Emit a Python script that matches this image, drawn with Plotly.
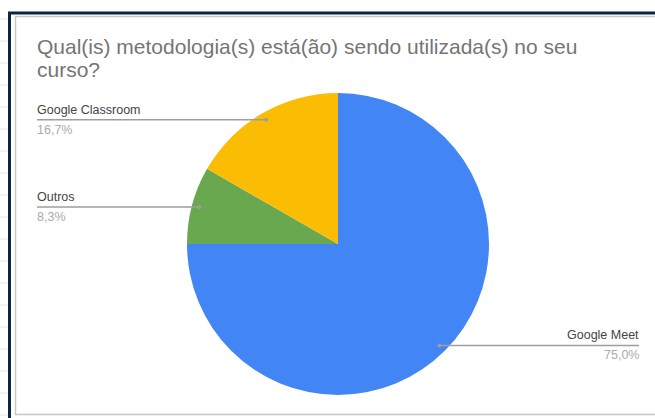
import math
import plotly.graph_objects as go

# Dados
categorias = ["Google Meet", "Outros", "Google Classroom"]
valores = [75.0, 8.3, 16.7]
rotulos_pct = ["75,0%", "8,3%", "16,7%"]
cores = ["#4285F4", "#6AA84F", "#FBBC04"]

titulo = ["Qual(is) metodologia(s) está(ão) sendo utilizada(s) no seu", "curso?"]

# Geometria (pixels da janela)
W, H = 655, 418
cx, cy, r = 338, 244, 151
x_esq, x_dir = 37, 639

fig = go.Figure()
fig.add_trace(
    go.Pie(
        labels=categorias,
        values=valores,
        sort=False,
        direction='clockwise',
        rotation=0,
        marker=dict(colors=cores, line=dict(width=0)),
        textinfo='none',
        hoverinfo='label+percent',
        showlegend=False,
        domain=dict(x=[(cx - r) / W, (cx + r) / W],
                    y=[1 - (cy + r) / H, 1 - (cy - r) / H])
    )
)

formas = []
anotacoes = []

# Linhas de chamada calculadas a partir dos ângulos das fatias
total = sum(valores)
acum = 0
for nome, v, pct in zip(categorias, valores, rotulos_pct):
    meio = (acum + v / 2) / total * 2 * math.pi
    acum += v
    px_ = cx + 0.95 * r * math.sin(meio)
    py_ = cy - 0.95 * r * math.cos(meio)
    direita = px_ > cx
    xf = x_dir if direita else x_esq
    formas.append(dict(type='line', xref='x', yref='y', x0=px_, y0=py_, x1=xf, y1=py_,
                       line=dict(color='#9E9E9E', width=1.5), layer='above'))
    formas.append(dict(type='circle', xref='x', yref='y',
                       x0=px_ - 2, y0=py_ - 2, x1=px_ + 2, y1=py_ + 2,
                       fillcolor='#9E9E9E', line=dict(width=0), layer='above'))
    anchor = 'right' if direita else 'left'
    xt = xf + 2 if direita else xf - 2
    anotacoes.append(dict(x=xt, y=py_ - 1, xref='x', yref='y', text=nome,
                          showarrow=False, xanchor=anchor, yanchor='bottom',
                          font=dict(family='Liberation Sans', size=12.5, color='#444444')))
    anotacoes.append(dict(x=xt, y=py_ + 1, xref='x', yref='y', text=pct,
                          showarrow=False, xanchor=anchor, yanchor='top',
                          font=dict(family='Liberation Sans', size=12.5, color='#AAAAAA')))

for i, linha in enumerate(titulo):
    anotacoes.append(dict(x=x_esq - 2, y=33 + 23 * i, xref='x', yref='y', text=linha,
                          showarrow=False, xanchor='left', yanchor='top', align='left',
                          font=dict(family='Liberation Sans', size=21, color='#757575')))

# Bordas do recorte
formas += [
    dict(type='rect', xref='x', yref='y', x0=15.5, y0=16.5, x1=W + 5, y1=414.5,
         line=dict(color='#C8C8C8', width=1.5), layer='below'),
    dict(type='line', xref='x', yref='y', x0=9.5, y0=12, x1=9.5, y1=H,
         line=dict(color='#0F2442', width=3)),
    dict(type='line', xref='x', yref='y', x0=8, y0=13, x1=W, y1=13,
         line=dict(color='#0F2442', width=3)),
]
for gy in range(19, H, 22):
    formas.append(dict(type='line', xref='x', yref='y', x0=0, y0=gy, x1=8, y1=gy,
                       line=dict(color='#E6E6E6', width=1)))

fig.update_layout(
    width=W, height=H,
    margin=dict(l=0, r=0, t=0, b=0),
    paper_bgcolor='white', plot_bgcolor='rgba(0,0,0,0)',
    xaxis=dict(range=[0, W], visible=False, fixedrange=True, domain=[0, 1]),
    yaxis=dict(range=[H, 0], visible=False, fixedrange=True, domain=[0, 1]),
    annotations=anotacoes,
    shapes=formas
)

fig.write_html("out.html", config=dict(displayModeBar=False),
               post_script="document.body.style.margin='0';")
